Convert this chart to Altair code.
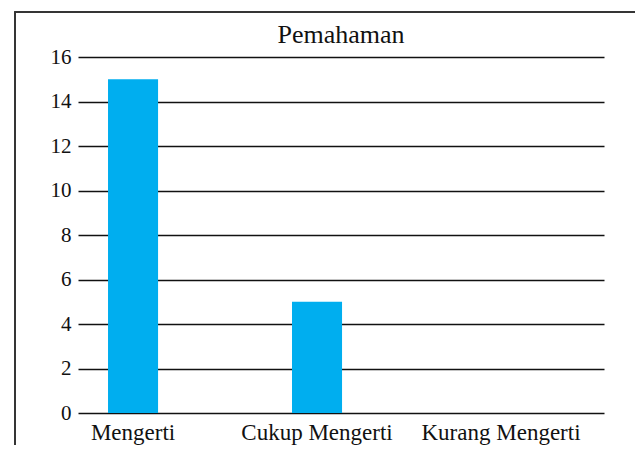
import altair as alt
import pandas as pd

categories = ["Mengerti", "Cukup Mengerti", "Kurang Mengerti"]
values = [15, 5, 0]
y_ticks = [0, 2, 4, 6, 8, 10, 12, 14, 16]
title_text = "Pemahaman"

df = pd.DataFrame({"kategori": categories, "jumlah": values})

FONT = "Liberation Serif"

bars = alt.Chart(df).mark_bar(color="#00AEEF").encode(
    x=alt.X("kategori:N", sort=categories,
            scale=alt.Scale(paddingInner=0.728, paddingOuter=0.2935, align=0.278),
            axis=alt.Axis(title=None, labelAngle=0, ticks=False, domain=False,
                          labelFont=FONT, labelFontSize=23, labelColor="#111",
                          labelPadding=8)),
    y=alt.Y("jumlah:Q", scale=alt.Scale(domain=[0, 16], nice=False),
            axis=alt.Axis(title=None, values=y_ticks, ticks=False, domain=False,
                          grid=True, gridColor="#111", gridWidth=1.4,
                          labelFont=FONT, labelFontSize=21, labelColor="#111",
                          labelPadding=7)),
)

frame = alt.Chart(df).mark_rect(filled=False, stroke="#333", strokeWidth=1.5, clip=False).encode(
    x=alt.value(-63), x2=alt.value(559), y=alt.value(-45), y2=alt.value(420)
)

chart = alt.layer(frame, bars).properties(
    width=526, height=356,
    title=alt.Title(title_text, font=FONT, fontSize=26, fontWeight="normal",
                    color="#111", anchor="middle", offset=-37),
    autosize=alt.AutoSizeParams(type="none"),
    padding={"left": 70, "top": 49, "right": 31, "bottom": 32},
).configure_view(stroke=None)

chart.save("out.html", embed_options={"renderer": "svg", "actions": False})
